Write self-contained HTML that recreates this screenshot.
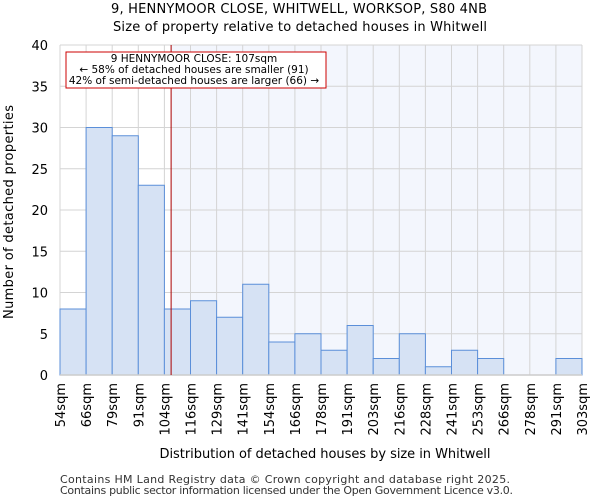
<!DOCTYPE html>
<html><head><meta charset="utf-8"><style>
body{margin:0;background:#fff;font-family:"DejaVu Sans","Liberation Sans",sans-serif;}
</style></head><body>
<svg id="c" width="600" height="500" xmlns="http://www.w3.org/2000/svg" style="font-family:'DejaVu Sans','Liberation Sans',sans-serif">
<text x="299" y="13" font-size="13" textLength="376" text-anchor="middle">9, HENNYMOOR CLOSE, WHITWELL, WORKSOP, S80 4NB</text>
<text x="300" y="31" font-size="13" textLength="374" text-anchor="middle">Size of property relative to detached houses in Whitwell</text>
<g id="plot"></g>
<text x="325" y="458" font-size="13" textLength="331" text-anchor="middle">Distribution of detached houses by size in Whitwell</text>
<text transform="translate(13,212) rotate(-90)" font-size="13" textLength="214" text-anchor="middle">Number of detached properties</text>
<text x="60" y="483" font-size="11" fill="#333" textLength="450">Contains HM Land Registry data © Crown copyright and database right 2025.</text>
<text x="60" y="494" font-size="11" fill="#333" textLength="453">Contains public sector information licensed under the Open Government Licence v3.0.</text>
</svg>
<script>
const binLabels=["54sqm","66sqm","79sqm","91sqm","104sqm","116sqm","129sqm","141sqm","154sqm","166sqm","178sqm","191sqm","203sqm","216sqm","228sqm","241sqm","253sqm","266sqm","278sqm","291sqm","303sqm"];
const counts=[8,30,29,23,8,9,7,11,4,5,3,6,2,5,1,3,2,0,0,2];
const yTicks=[0,5,10,15,20,25,30,35,40];
const markerValue=107;
const binStart=54, binWidthSqm=12.45;
const NS="http://www.w3.org/2000/svg";
const g=document.getElementById('plot');
const X0=60,X1=582,Y0=375,Y1=45,yMax=40;
const bw=(X1-X0)/counts.length;
const xs=i=>X0+i*bw;
const ys=v=>Y0-(v/yMax)*(Y0-Y1);
const xv=v=>X0+(v-binStart)/binWidthSqm*bw;
function el(t,a){const e=document.createElementNS(NS,t);for(const k in a)e.setAttribute(k,a[k]);g.appendChild(e);return e;}
const mx=xv(markerValue);
let bg=el('rect',{x:mx,y:Y1,width:X1-mx,height:Y0-Y1,fill:'#f3f6fd'});


for(let i=0;i<=counts.length;i++){let l=el('line',{x1:xs(i),x2:xs(i),y1:Y1,y2:Y0,stroke:'#d4d4d4','stroke-width':1});

}
yTicks.forEach(v=>{let l=el('line',{x1:X0,x2:X1,y1:ys(v),y2:ys(v),stroke:'#d4d4d4','stroke-width':1});


let t=el('text',{x:48,y:ys(v)+5,'font-size':13,'text-anchor':'end'});t.textContent=v;

});
counts.forEach((c,i)=>{if(c<=0)return;let r=el('rect',{x:xs(i),y:ys(c),width:bw,height:Y0-ys(c),fill:'#d6e2f4',stroke:'#5b8fd9','stroke-width':1});

});
let ax=el('line',{x1:X0,x2:X1,y1:Y0,y2:Y0,stroke:'#ccc','stroke-width':1.5});


binLabels.forEach((lab,i)=>{let t=el('text',{transform:`translate(${xs(i)+5},383) rotate(-90)`,'font-size':13,'text-anchor':'end'});t.textContent=lab;

});
let ml=el('line',{x1:mx,x2:mx,y1:Y1,y2:Y0,stroke:'#a00','stroke-width':1});


let box=el('rect',{x:66,y:52,width:260,height:36,fill:'#fff',stroke:'#c00','stroke-width':1});


["9 HENNYMOOR CLOSE: 107sqm","← 58% of detached houses are smaller (91)","42% of semi-detached houses are larger (66) →"].forEach((s,k)=>{let t=el('text',{x:194,y:62+k*11,'font-size':10.5,'text-anchor':'middle'});t.textContent=s;

});
</script>
</body></html>
